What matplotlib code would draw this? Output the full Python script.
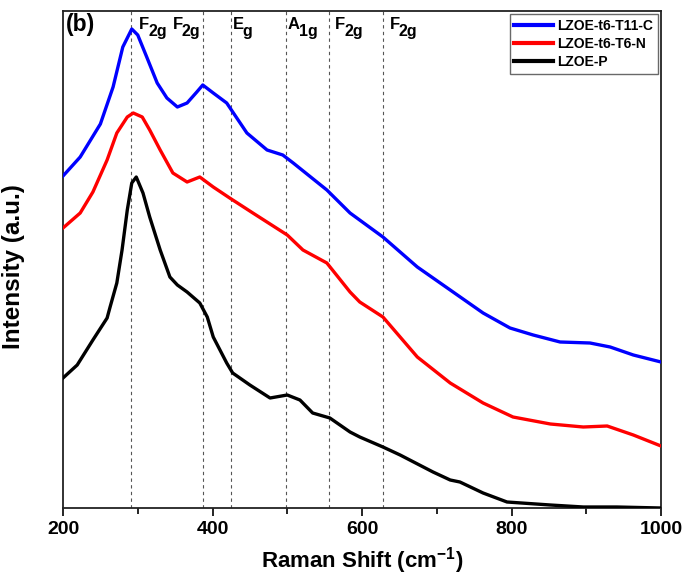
import numpy as np
import matplotlib
matplotlib.use('Agg')
import matplotlib.pyplot as plt
from matplotlib.ticker import MultipleLocator

plt.rcParams['font.family'] = ['Liberation Sans', 'DejaVu Sans']
plt.rcParams['font.weight'] = 'bold'
plt.rcParams['mathtext.fontset'] = 'custom'
plt.rcParams['mathtext.rm'] = 'Liberation Sans:bold'
plt.rcParams['mathtext.bf'] = 'Liberation Sans:bold'
plt.rcParams['mathtext.it'] = 'Liberation Sans:bold'

# Raman spectra (arbitrary intensity units)
blue_x = [200, 223, 250, 267, 280, 292, 300, 312, 326, 339, 353, 366, 379, 387, 401, 419,
          446, 473, 494, 508, 553, 584, 628, 674, 718, 762, 798, 829, 865, 905, 932, 963, 1000]
blue_y = [332, 351, 384, 421, 461, 479, 473, 451, 425, 410, 401, 405, 416, 423, 415, 405,
          375, 358, 353, 345, 318, 295, 271, 241, 218, 195, 180, 173, 166, 165, 161, 153, 146]

red_x = [200, 223, 240, 259, 272, 286, 294, 306, 316, 330, 347, 366, 383, 401, 423, 454,
         500, 521, 553, 584, 597, 628, 674, 718, 762, 802, 852, 896, 928, 963, 1000]
red_y = [280, 295, 316, 348, 375, 391, 395, 391, 378, 358, 335, 326, 331, 321, 310, 295,
         273, 258, 245, 216, 206, 191, 151, 125, 105, 91, 84, 81, 82, 73, 62]

black_x = [200, 219, 240, 259, 263, 272, 279, 286, 292, 298, 307, 316, 330, 343, 353, 366,
           383, 393, 401, 410, 419, 427, 450, 477, 500, 517, 534, 557, 584, 597, 628, 651,
           695, 718, 731, 762, 794, 852, 896, 941, 1000]
black_y = [130, 143, 168, 190, 201, 225, 258, 298, 325, 331, 315, 291, 258, 231, 223, 216,
           205, 191, 171, 158, 145, 135, 123, 110, 113, 108, 95, 90, 76, 71, 61, 53,
           36, 28, 26, 15, 6, 3, 1, 1, 0]

labels = ['LZOE-t6-T11-C', 'LZOE-t6-T6-N', 'LZOE-P']

# mode positions and labels
mode_pos = [291, 387, 425, 498, 556, 628]
mode_txt_x = [302, 347, 427, 501, 564, 637]
mode_main = ['F', 'F', 'E', 'A', 'F', 'F']
mode_sub = ['2g', '2g', 'g', '1g', '2g', '2g']

fig = plt.figure(figsize=(6.85, 5.84), dpi=100)
ax = fig.add_axes([63/685, (584-508)/584, 598/685, 497/584])

for p in mode_pos:
    ax.axvline(p, color='#555555', ls=(0, (3, 3)), lw=0.8, zorder=1)

ax.plot(blue_x, blue_y, color='#0000ff', lw=2.4, label=labels[0], zorder=3)
ax.plot(red_x, red_y, color='#ff0000', lw=2.4, label=labels[1], zorder=3)
ax.plot(black_x, black_y, color='black', lw=2.4, label=labels[2], zorder=3)

# mode labels: letter + lowered subscript
letter_w = {'F': 9, 'E': 10, 'A': 11}
for tx, m, s in zip(mode_txt_x, mode_main, mode_sub):
    ax.text(tx, 491, m, fontsize=12, fontweight='bold', ha='left', va='top')
    ax.annotate(s, xy=(tx, 491), xytext=(letter_w[m], -7), textcoords='offset pixels',
                fontsize=11.5, fontweight='bold', ha='left', va='top')

ax.text(204, 484, '(b)', fontsize=16.5, fontweight='bold', ha='left', va='center')

ax.set_xlim(200, 1000)
ax.set_ylim(0, 497)
ax.xaxis.set_major_locator(MultipleLocator(200))
ax.xaxis.set_minor_locator(MultipleLocator(100))
ax.set_yticks([])
ax.tick_params(axis='x', which='major', direction='out', length=6, width=1.2, labelsize=14)
ax.tick_params(axis='x', which='minor', direction='out', length=4, width=1.2)
for lab in ax.get_xticklabels():
    lab.set_fontweight('bold')
for s in ax.spines.values():
    s.set_linewidth(1.3)
    s.set_color('#222222')

ax.set_xlabel('Raman Shift (cm$^{-1}$)', fontsize=16, fontweight='bold', labelpad=5)
ax.set_ylabel('Intensity (a.u.)', fontsize=17.5, fontweight='bold', labelpad=16)
ax.yaxis.set_label_coords(-0.063, 0.485)

leg = ax.legend(loc='upper right', fontsize=10, frameon=True, fancybox=False,
                handlelength=2.8, handletextpad=0.3, borderpad=0.35, labelspacing=0.3,
                borderaxespad=0.2)
leg.get_frame().set_edgecolor('#444444')
leg.get_frame().set_linewidth(1.0)
for t in leg.get_texts():
    t.set_fontweight('bold')
for l in leg.get_lines():
    l.set_linewidth(3)

fig.savefig('out.png', dpi=100)
